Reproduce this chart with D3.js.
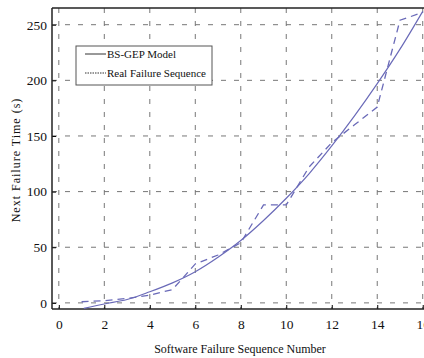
<!DOCTYPE html>
<html>
<head>
<meta charset="utf-8">
<script src="https://cdn.jsdelivr.net/npm/d3@7"></script>
<style>
  body { margin: 0; background: #fff; }
  svg { display: block; }
</style>
</head>
<body>
<div id="chart"></div>
<script>
// model curve (BS-GEP)
const modelX = [1.1, 2, 3, 4, 5, 6, 7, 8, 9, 10, 11, 12, 13, 14, 15, 16];
const modelY = [-5, -1, 3, 10, 18, 28, 41, 56, 74, 94, 116, 141, 168, 197, 228, 262];

// real failure sequence
const realX = [1, 2, 3, 4, 5, 6, 7, 8, 9, 10, 11, 12, 13, 14, 15, 16];
const realY = [1, 2, 4, 7, 12, 35, 43, 54, 88, 88, 122, 144, 160, 176, 254, 261];

const xTicks = [0, 2, 4, 6, 8, 10, 12, 14, 16];
const yTicks = [0, 50, 100, 150, 200, 250];
const legendLabels = ['BS-GEP Model', 'Real Failure Sequence'];

const width = 424, height = 358;
const margin = { top: 8, right: -1, bottom: 49, left: 52 };
const lineColor = '#6a6ab8';
const serif = '"Liberation Serif", "Times New Roman", "DejaVu Serif", serif';

const svg = d3.select('#chart').append('svg').attr('width', width).attr('height', height);

const x = d3.scaleLinear().domain([-0.3, 16.1]).range([margin.left, width - margin.right]);
const y = d3.scaleLinear().domain([-5.5, 265]).range([height - margin.bottom, margin.top]);

const x0 = margin.left, x1 = width - margin.right;
const y0 = height - margin.bottom, y1 = margin.top;

svg.append('defs').append('clipPath').attr('id', 'clip')
  .append('rect').attr('x', x0).attr('y', y1).attr('width', x1 - x0).attr('height', y0 - y1);

// grid
svg.append('g')
  .selectAll('line')
  .data(xTicks)
  .enter()
  .append('line')
  .attr('x1', d => x(d)).attr('x2', d => x(d))
  .attr('y1', y1).attr('y2', y0)
  .style('stroke', '#777')
  .style('stroke-width', 1)
  .style('stroke-dasharray', '5,8');

svg.append('g')
  .selectAll('line')
  .data(yTicks)
  .enter()
  .append('line')
  .attr('x1', x0).attr('x2', x1)
  .attr('y1', d => y(d)).attr('y2', d => y(d))
  .style('stroke', '#777')
  .style('stroke-width', 1)
  .style('stroke-dasharray', '5,8');

// axes
const xAxis = svg.append('g')
  .attr('transform', `translate(0,${y0})`)
  .call(d3.axisBottom(x).tickValues(xTicks).tickSize(-4).tickPadding(10).tickFormat(d3.format('d')));
xAxis.select('.domain').remove();
xAxis.selectAll('text').style('font-family', serif).style('font-size', '13.5px').style('fill', '#111');

const yAxis = svg.append('g')
  .attr('transform', `translate(${x0},0)`)
  .call(d3.axisLeft(y).tickValues(yTicks).tickSize(-4).tickPadding(5).tickFormat(d3.format('d')));
yAxis.select('.domain').remove();
yAxis.selectAll('text').style('font-family', serif).style('font-size', '13.5px').style('fill', '#111');

// frame
svg.append('line').attr('x1', x0).attr('x2', x0).attr('y1', y1).attr('y2', y0).style('stroke', '#222').style('stroke-width', 1.5);
svg.append('line').attr('x1', x0).attr('x2', x1).attr('y1', y0).attr('y2', y0).style('stroke', '#222').style('stroke-width', 1.5);
svg.append('line').attr('x1', x0).attr('x2', x1).attr('y1', y1).attr('y2', y1).style('stroke', '#222').style('stroke-width', 1.5);

// series
const plot = svg.append('g').attr('clip-path', 'url(#clip)');

const modelLine = d3.line().x(d => x(d[0])).y(d => y(d[1])).curve(d3.curveCatmullRom);
plot.append('path')
  .datum(d3.zip(modelX, modelY))
  .attr('d', modelLine)
  .style('fill', 'none')
  .style('stroke', lineColor)
  .style('stroke-width', 1.2);

const realLine = d3.line().x(d => x(d[0])).y(d => y(d[1]));
plot.append('path')
  .datum(d3.zip(realX, realY))
  .attr('d', realLine)
  .style('fill', 'none')
  .style('stroke', lineColor)
  .style('stroke-width', 1.3)
  .style('stroke-dasharray', '7,5');

// legend
const legend = svg.append('g').attr('transform', 'translate(76,46)');
legend.append('rect')
  .attr('width', 136).attr('height', 39)
  .style('fill', '#fff')
  .style('stroke', '#555')
  .style('stroke-width', 1);

legend.selectAll('line')
  .data(legendLabels)
  .enter()
  .append('line')
  .attr('x1', 9).attr('x2', 30)
  .attr('y1', (d, i) => 8 + i * 19).attr('y2', (d, i) => 8 + i * 19)
  .style('stroke', '#333')
  .style('stroke-width', 1)
  .style('stroke-dasharray', (d, i) => (i === 0 ? null : '1.5,1'));

legend.selectAll('text')
  .data(legendLabels)
  .enter()
  .append('text')
  .attr('x', 31)
  .attr('y', (d, i) => 8 + i * 19)
  .attr('dy', '0.35em')
  .style('font-family', serif)
  .style('font-size', '11px')
  .style('fill', '#111')
  .text(d => d);

// axis titles
svg.append('text')
  .attr('x', 240).attr('y', 353)
  .attr('text-anchor', 'middle')
  .style('font-family', serif)
  .style('font-size', '12px')
  .style('fill', '#111')
  .text('Software Failure Sequence Number');

svg.append('text')
  .attr('transform', 'translate(20,160) rotate(-90)')
  .attr('text-anchor', 'middle')
  .style('font-family', serif)
  .style('font-size', '12px')
  .style('letter-spacing', '1px')
  .style('fill', '#111')
  .text('Next Failure Time (s)');
</script>
</body>
</html>
